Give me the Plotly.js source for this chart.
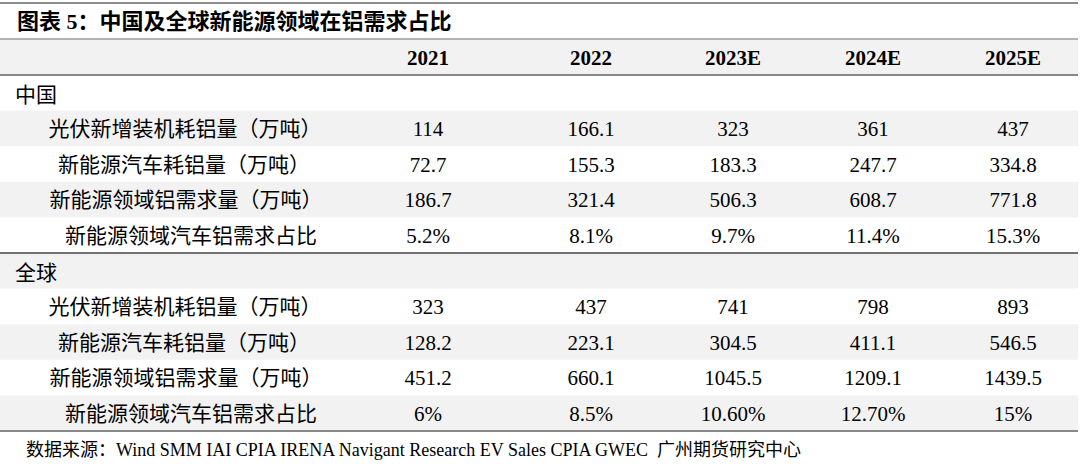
<!DOCTYPE html>
<html>
<head>
<meta charset="utf-8">
<script src="https://cdn.plot.ly/plotly-3.0.1.min.js"></script>
<style>html,body{margin:0;padding:0;background:#fff;}#chart{width:1080px;height:471px;}</style>
</head>
<body>
<div id="chart"></div>
<script>
// ---------- data ----------
const titleText = "图表 5：中国及全球新能源领域在铝需求占比";
const sourceText = "数据来源：Wind SMM IAI CPIA IRENA Navigant Research EV Sales CPIA GWEC  广州期货研究中心";
const years = ["2021", "2022", "2023E", "2024E", "2025E"];
const regionLabels = ["中国", "全球"];
const itemLabels = ["光伏新增装机耗铝量（万吨）", "新能源汽车耗铝量（万吨）", "新能源领域铝需求量（万吨）", "新能源领域汽车铝需求占比"];
const chinaPV = ["114", "166.1", "323", "361", "437"];
const chinaEV = ["72.7", "155.3", "183.3", "247.7", "334.8"];
const chinaTotal = ["186.7", "321.4", "506.3", "608.7", "771.8"];
const chinaShare = ["5.2%", "8.1%", "9.7%", "11.4%", "15.3%"];
const globalPV = ["323", "437", "741", "798", "893"];
const globalEV = ["128.2", "223.1", "304.5", "411.1", "546.5"];
const globalTotal = ["451.2", "660.1", "1045.5", "1209.1", "1439.5"];
const globalShare = ["6%", "8.5%", "10.60%", "12.70%", "15%"];

// ---------- layout constants ----------
const W = 1080, H = 471;
const colX = [428, 591, 733, 873, 1013];
const labelX = [185, 184, 186, 191];
const regionX = 15;
const headerTop = 39, headerBot = 75;
const bodyTop = 75, rowH = 35.6;
const textDy = 2.5;
const tableRight = 1078;
const shade = "#f2f2f2";
const cjk = "Noto Sans CJK SC";
const serifMix = "Liberation Serif, 'Noto Sans CJK SC'";

const groups = [
  {region: regionLabels[0], rows: [chinaPV, chinaEV, chinaTotal, chinaShare]},
  {region: regionLabels[1], rows: [globalPV, globalEV, globalTotal, globalShare]}
];

const rowCenter = i => bodyTop + rowH * (i + 0.5) + textDy;

const regX = [], regY = [], regT = [];
const labX = [], labY = [], labT = [];
const valX = [], valY = [], valT = [];
let r = 0;
groups.forEach(g => {
  regX.push(regionX); regY.push(rowCenter(r) + 1); regT.push(g.region);
  r++;
  g.rows.forEach((vals, k) => {
    labX.push(labelX[k]); labY.push(rowCenter(r)); labT.push(itemLabels[k]);
    vals.forEach((v, c) => { valX.push(colX[c]); valY.push(rowCenter(r)); valT.push(v); });
    r++;
  });
});
const nRows = r;

const traces = [
  {x: colX, y: colX.map(() => (headerTop + headerBot) / 2 + textDy), text: years, mode: "text", type: "scatter",
   textposition: "middle center", textfont: {family: "Liberation Serif", size: 21, color: "#000", weight: "bold"}, hoverinfo: "skip"},
  {x: regX, y: regY, text: regT, mode: "text", type: "scatter", textposition: "middle right",
   textfont: {family: cjk, size: 21, color: "#000"}, hoverinfo: "skip"},
  {x: labX, y: labY, text: labT, mode: "text", type: "scatter", textposition: "middle center",
   textfont: {family: cjk, size: 21, color: "#000"}, hoverinfo: "skip"},
  {x: valX, y: valY, text: valT, mode: "text", type: "scatter", textposition: "middle center",
   textfont: {family: "Liberation Serif", size: 21, color: "#000"}, hoverinfo: "skip"}
];

const shapes = [];
shapes.push({type: "rect", xref: "x", yref: "y", x0: 0, x1: tableRight, y0: headerTop, y1: headerBot, fillcolor: shade, line: {width: 0}, layer: "below"});
for (let i = 0; i < nRows; i++) {
  if (i % 2 === 1) {
    shapes.push({type: "rect", xref: "x", yref: "y", x0: 0, x1: tableRight, y0: bodyTop + rowH * i, y1: bodyTop + rowH * (i + 1), fillcolor: shade, line: {width: 0}, layer: "below"});
  }
}
const hline = (y, w, c) => ({type: "line", xref: "x", yref: "y", x0: 0, x1: tableRight, y0: y, y1: y, line: {width: w, color: c}});
shapes.push(hline(3, 2, "#8c8c8c"));
shapes.push(hline(headerTop, 1.3, "#9a9a9a"));
shapes.push(hline(headerBot, 2, "#888888"));
shapes.push(hline(bodyTop + rowH * 5, 1.3, "#444444"));
shapes.push(hline(bodyTop + rowH * nRows, 2, "#888888"));

const layout = {
  width: W, height: H,
  margin: {l: 0, r: 0, t: 0, b: 0},
  paper_bgcolor: "#fff", plot_bgcolor: "#fff",
  showlegend: false,
  xaxis: {range: [0, W], visible: false, fixedrange: true},
  yaxis: {range: [H, 0], visible: false, fixedrange: true},
  shapes: shapes,
  annotations: [
    {xref: "x", yref: "y", x: 15, y: 21, text: "<b>" + titleText + "</b>", showarrow: false, xanchor: "left", yanchor: "middle",
     font: {family: serifMix, size: 22, color: "#000"}},
    {xref: "x", yref: "y", x: 24, y: 450, text: sourceText, showarrow: false, xanchor: "left", yanchor: "middle",
     font: {family: serifMix, size: 18, color: "#000"}}
  ]
};

Plotly.newPlot("chart", traces, layout, {staticPlot: true, displayModeBar: false});
</script>
</body>
</html>
